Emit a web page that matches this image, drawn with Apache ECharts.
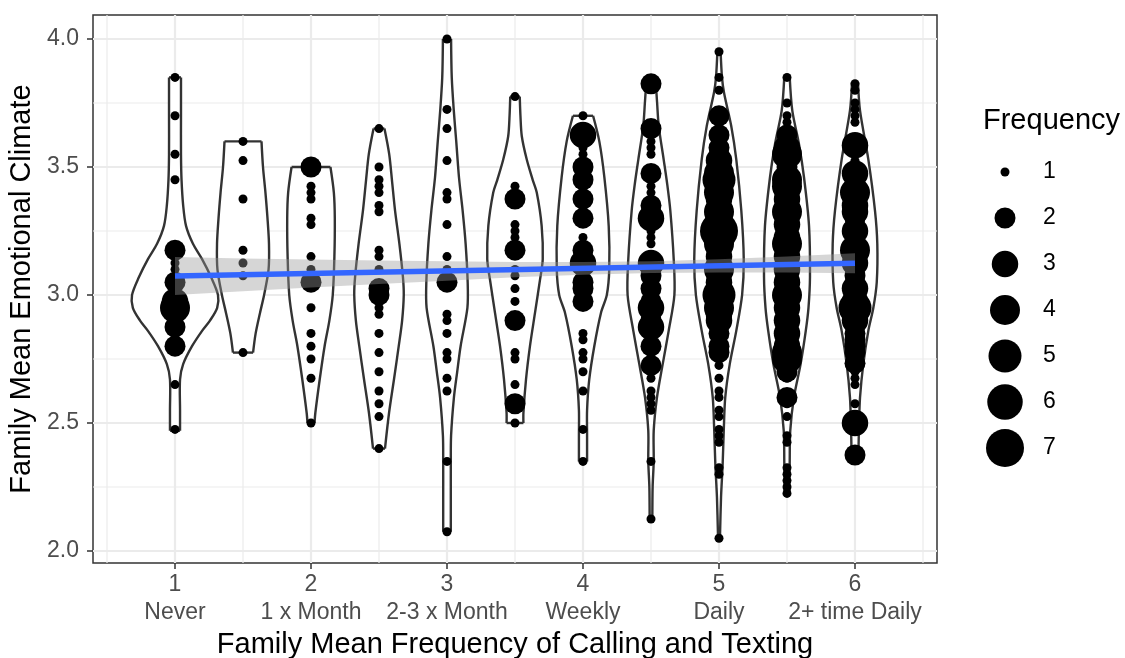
<!DOCTYPE html>
<html>
<head>
<meta charset="utf-8">
<script src="https://cdn.jsdelivr.net/npm/echarts@6/dist/echarts.min.js"></script>
<style>
  body { margin: 0; background: #fff; }
  #chart { width: 1125px; height: 658px; }
</style>
</head>
<body>
<div id="chart"></div>
<script>
// x positions of the groups (family mean frequency)
const groupX = [1, 1.5, 2, 2.5, 3, 3.5, 4, 4.5, 5, 5.5, 6];

// tick labels
const xTickValues = [1, 2, 3, 4, 5, 6];
const xTickNames = ['Never', '1 x Month', '2-3 x Month', 'Weekly', 'Daily', '2+ time Daily'];
const yTickValues = [2.0, 2.5, 3.0, 3.5, 4.0];
const xMinorValues = [0.5, 1.5, 2.5, 3.5, 4.5, 5.5, 6.5];
const yMinorValues = [2.25, 2.75, 3.25, 3.75];

// points per group: [emotional climate, frequency]
const pts1 = [[3.85, 1], [3.70, 1], [3.55, 1], [3.45, 1], [3.175, 2], [3.125, 1], [3.10, 1], [3.05, 2], [2.975, 3], [2.95, 4], [2.875, 2], [2.80, 2], [2.65, 1], [2.475, 1]];
const pts1_5 = [[3.60, 1], [3.525, 1], [3.375, 1], [3.175, 1], [3.125, 1], [3.075, 1], [2.775, 1]];
const pts2 = [[3.50, 2], [3.425, 1], [3.40, 1], [3.375, 1], [3.30, 1], [3.275, 1], [3.15, 1], [3.10, 1], [3.05, 2], [2.95, 1], [2.85, 1], [2.80, 1], [2.75, 1], [2.675, 1], [2.50, 1]];
const pts2_5 = [[3.65, 1], [3.50, 1], [3.45, 1], [3.425, 1], [3.40, 1], [3.35, 1], [3.325, 1], [3.175, 1], [3.15, 1], [3.10, 1], [3.025, 2], [3.00, 2], [2.95, 1], [2.925, 1], [2.85, 1], [2.775, 1], [2.70, 1], [2.625, 1], [2.575, 1], [2.525, 1], [2.40, 1]];
const pts3 = [[4.00, 1], [3.725, 1], [3.65, 1], [3.525, 1], [3.40, 1], [3.375, 1], [3.275, 1], [3.15, 1], [3.10, 1], [3.05, 2], [2.925, 1], [2.90, 1], [2.85, 1], [2.775, 1], [2.75, 1], [2.675, 1], [2.625, 1], [2.35, 1], [2.075, 1]];
const pts3_5 = [[3.775, 1], [3.425, 1], [3.375, 2], [3.275, 1], [3.25, 1], [3.225, 1], [3.175, 2], [3.10, 1], [3.075, 1], [3.025, 1], [2.975, 1], [2.90, 2], [2.775, 1], [2.75, 1], [2.65, 1], [2.575, 2], [2.50, 1]];
const pts4 = [[3.70, 1], [3.625, 3], [3.575, 1], [3.55, 1], [3.50, 2], [3.45, 2], [3.425, 1], [3.375, 2], [3.35, 1], [3.30, 2], [3.225, 1], [3.175, 2], [3.125, 3], [3.05, 2], [3.025, 2], [2.975, 2], [2.85, 1], [2.825, 1], [2.775, 1], [2.75, 1], [2.70, 1], [2.625, 1], [2.475, 1], [2.35, 1]];
const pts4_5 = [[3.825, 2], [3.65, 2], [3.60, 1], [3.575, 1], [3.55, 1], [3.475, 2], [3.425, 1], [3.40, 1], [3.35, 2], [3.30, 3], [3.25, 1], [3.225, 1], [3.20, 1], [3.125, 3], [3.10, 2], [3.075, 2], [3.025, 2], [2.975, 2], [2.95, 3], [2.90, 2], [2.875, 3], [2.80, 2], [2.775, 1], [2.725, 2], [2.70, 1], [2.675, 1], [2.625, 1], [2.60, 1], [2.575, 1], [2.55, 1], [2.35, 1], [2.125, 1]];
const pts5 = [[3.95, 1], [3.85, 1], [3.80, 1], [3.70, 2], [3.65, 1], [3.625, 2], [3.575, 2], [3.525, 3], [3.475, 4], [3.45, 5], [3.40, 4], [3.375, 3], [3.325, 4], [3.30, 3], [3.25, 7], [3.20, 4], [3.15, 3], [3.10, 4], [3.05, 3], [3.00, 5], [2.95, 4], [2.925, 3], [2.90, 3], [2.85, 2], [2.80, 2], [2.775, 2], [2.75, 1], [2.725, 1], [2.675, 1], [2.625, 1], [2.60, 1], [2.55, 1], [2.525, 1], [2.475, 1], [2.45, 1], [2.425, 1], [2.325, 1], [2.30, 1], [2.05, 1]];
const pts5_5 = [[3.85, 1], [3.75, 1], [3.70, 1], [3.675, 1], [3.625, 2], [3.575, 3], [3.55, 4], [3.50, 2], [3.45, 4], [3.425, 4], [3.375, 3], [3.325, 4], [3.275, 3], [3.225, 3], [3.20, 4], [3.15, 3], [3.10, 3], [3.05, 3], [3.00, 4], [2.95, 3], [2.90, 3], [2.85, 3], [2.80, 3], [2.775, 4], [2.75, 4], [2.70, 2], [2.675, 1], [2.60, 2], [2.575, 1], [2.525, 1], [2.45, 1], [2.425, 1], [2.325, 1], [2.30, 1], [2.275, 1], [2.25, 1], [2.225, 1]];
const pts6 = [[3.825, 1], [3.80, 1], [3.75, 1], [3.725, 1], [3.70, 1], [3.675, 1], [3.585, 3], [3.525, 1], [3.475, 3], [3.40, 4], [3.35, 3], [3.325, 3], [3.30, 2], [3.25, 3], [3.20, 2], [3.175, 4], [3.125, 3], [3.075, 2], [3.025, 3], [2.975, 3], [2.95, 5], [2.90, 3], [2.85, 2], [2.825, 2], [2.80, 2], [2.775, 2], [2.733, 2], [2.70, 1], [2.675, 1], [2.65, 1], [2.575, 1], [2.50, 3], [2.375, 2]];
const groupPoints = [pts1, pts1_5, pts2, pts2_5, pts3, pts3_5, pts4, pts4_5, pts5, pts5_5, pts6];

// violin outlines: [emotional climate, half width in x units], top to bottom
const vio1 = [[3.85, 0.044], [3.70, 0.044], [3.55, 0.044], [3.45, 0.048], [3.35, 0.06], [3.27, 0.081], [3.20, 0.132], [3.14, 0.199], [3.07, 0.265], [3.00, 0.316], [2.95, 0.31], [2.90, 0.257], [2.86, 0.199], [2.80, 0.125], [2.73, 0.06], [2.67, 0.037], [2.55, 0.037], [2.47, 0.037]];
const vio1_5 = [[3.60, 0.136], [3.50, 0.147], [3.40, 0.165], [3.30, 0.18], [3.20, 0.191], [3.10, 0.188], [3.00, 0.155], [2.93, 0.125], [2.85, 0.093], [2.775, 0.074]];
const vio2 = [[3.50, 0.143], [3.40, 0.168], [3.30, 0.175], [3.15, 0.172], [3.00, 0.16], [2.90, 0.135], [2.80, 0.10], [2.67, 0.064], [2.54, 0.032], [2.50, 0.026]];
const vio2_5 = [[3.65, 0.04], [3.55, 0.075], [3.45, 0.095], [3.33, 0.118], [3.20, 0.15], [3.07, 0.176], [3.00, 0.182], [2.90, 0.17], [2.80, 0.145], [2.67, 0.11], [2.54, 0.074], [2.40, 0.044]];
const vio3 = [[4.00, 0.03], [3.85, 0.035], [3.72, 0.05], [3.60, 0.068], [3.46, 0.088], [3.33, 0.115], [3.20, 0.137], [3.05, 0.152], [2.95, 0.15], [2.80, 0.10], [2.70, 0.075], [2.60, 0.051], [2.45, 0.03], [2.35, 0.028], [2.20, 0.028], [2.075, 0.028]];
const vio3_5 = [[3.775, 0.035], [3.70, 0.04], [3.62, 0.05], [3.53, 0.086], [3.45, 0.13], [3.40, 0.16], [3.27, 0.196], [3.14, 0.204], [3.06, 0.184], [2.93, 0.147], [2.80, 0.11], [2.67, 0.081], [2.54, 0.062], [2.50, 0.062]];
const vio4 = [[3.70, 0.074], [3.60, 0.12], [3.46, 0.157], [3.27, 0.189], [3.10, 0.193], [3.00, 0.175], [2.93, 0.132], [2.80, 0.083], [2.67, 0.046], [2.55, 0.03], [2.45, 0.03], [2.35, 0.03]];
const vio4_5 = [[3.83, 0.035], [3.75, 0.045], [3.66, 0.057], [3.53, 0.093], [3.43, 0.12], [3.33, 0.142], [3.14, 0.167], [3.00, 0.172], [2.86, 0.13], [2.73, 0.086], [2.60, 0.044], [2.47, 0.02], [2.35, 0.02], [2.25, 0.012], [2.13, 0.01]];
const vio5 = [[3.95, 0.012], [3.85, 0.022], [3.79, 0.037], [3.66, 0.09], [3.53, 0.127], [3.33, 0.164], [3.14, 0.182], [3.00, 0.17], [2.86, 0.127], [2.73, 0.079], [2.60, 0.046], [2.47, 0.035], [2.34, 0.027], [2.21, 0.015], [2.05, 0.007]];
const vio5_5 = [[3.85, 0.02], [3.72, 0.039], [3.59, 0.088], [3.46, 0.125], [3.27, 0.162], [3.07, 0.169], [2.95, 0.158], [2.86, 0.138], [2.73, 0.10], [2.60, 0.051], [2.47, 0.024], [2.35, 0.02], [2.225, 0.018]];
const vio6 = [[3.83, 0.022], [3.72, 0.037], [3.53, 0.098], [3.33, 0.147], [3.20, 0.164], [3.05, 0.16], [2.95, 0.135], [2.86, 0.098], [2.73, 0.061], [2.60, 0.037], [2.50, 0.03], [2.375, 0.025]];
const groupViolins = [vio1, vio1_5, vio2, vio2_5, vio3, vio3_5, vio4, vio4_5, vio5, vio5_5, vio6];

// linear fit and its confidence band
const fitX = [1, 6];
const fitY = [3.074, 3.124];
const bandX = [1, 1.5, 2, 2.5, 3, 3.5, 4, 4.5, 5, 5.5, 6];
const bandLow = [3.000, 3.015, 3.029, 3.043, 3.056, 3.069, 3.079, 3.086, 3.088, 3.088, 3.085];
const bandHigh = [3.148, 3.143, 3.139, 3.135, 3.132, 3.129, 3.129, 3.132, 3.140, 3.150, 3.163];

// size legend
const legendCounts = [1, 2, 3, 4, 5, 6, 7];

const FONT = 'Liberation Sans, Arial, sans-serif';
const X_MIN = 0.397;
const X_MAX = 6.603;
const Y_MIN = 1.95312;
const Y_MAX = 4.09375;
// diameter of a point for each frequency (1..7)
const sizeByCount = [9, 21, 26.5, 30, 33, 35.5, 38];
const pointSize = (val) => sizeByCount[val[2] - 1];

const chart = echarts.init(document.getElementById('chart'), null, { renderer: 'canvas' });

// panel grid lines, drawn under everything else
const gridSeries = (values, vertical, width) => ({
  type: 'custom',
  z: 0,
  silent: true,
  renderItem: (params, api) => {
    const v = api.value(0);
    const a = vertical ? api.coord([v, Y_MIN]) : api.coord([X_MIN, v]);
    const b = vertical ? api.coord([v, Y_MAX]) : api.coord([X_MAX, v]);
    return {
      type: 'line',
      shape: { x1: a[0], y1: a[1], x2: b[0], y2: b[1] },
      style: { stroke: '#ebebeb', lineWidth: width }
    };
  },
  data: values.map((v) => [v])
});

// one smooth edge per side, straight caps, white fill
const renderViolin = (params, api) => {
  const x = api.value(0);
  const prof = groupViolins[params.dataIndex];
  const right = prof.map((p) => api.coord([x + p[1], p[0]]));
  const left = prof.map((p) => api.coord([x - p[1], p[0]]));
  const edge = { fill: null, stroke: '#333333', lineWidth: 2.4 };
  const n = prof.length - 1;
  return {
    type: 'group',
    children: [
      { type: 'polygon', shape: { points: right.concat(left.slice().reverse()) }, style: { fill: '#ffffff' } },
      { type: 'polyline', shape: { points: right, smooth: 0.3 }, style: edge },
      { type: 'polyline', shape: { points: left, smooth: 0.3 }, style: edge },
      { type: 'line', shape: { x1: left[0][0], y1: left[0][1], x2: right[0][0], y2: right[0][1] }, style: edge },
      { type: 'line', shape: { x1: left[n][0], y1: left[n][1], x2: right[n][0], y2: right[n][1] }, style: edge }
    ]
  };
};

const renderBand = (params, api) => {
  const upper = bandX.map((x, i) => api.coord([x, bandHigh[i]]));
  const lower = bandX.map((x, i) => api.coord([x, bandLow[i]])).reverse();
  return {
    type: 'polygon',
    shape: { points: upper.concat(lower) },
    style: { fill: 'rgba(153,153,153,0.4)' }
  };
};

const scatterData = [];
groupX.forEach((x, i) => {
  groupPoints[i].forEach((p) => scatterData.push([x, p[0], p[1]]));
});

const option = {
  animation: false,
  backgroundColor: '#ffffff',
  textStyle: { fontFamily: FONT },
  title: {
    text: 'Frequency',
    left: 983,
    top: 106,
    padding: 0,
    textStyle: { fontFamily: FONT, fontSize: 29, fontWeight: 'normal', color: '#000' }
  },
  grid: [
    {
      left: 93, top: 15, width: 844, height: 548,
      show: true, borderColor: '#333333', borderWidth: 1.5,
      outerBoundsMode: 'none'
    },
    { left: 985, top: 149, width: 40, height: 322, outerBoundsMode: 'none' }
  ],
  xAxis: [
    {
      type: 'value',
      min: X_MIN,
      max: X_MAX,
      name: 'Family Mean Frequency of Calling and Texting',
      nameLocation: 'middle',
      nameGap: 65,
      nameTextStyle: { fontFamily: FONT, fontSize: 29, color: '#000' },
      axisLine: { show: false },
      axisTick: { show: true, customValues: xTickValues, length: 6, lineStyle: { color: '#333333', width: 1.5 } },
      axisLabel: {
        customValues: xTickValues,
        margin: 8,
        fontFamily: FONT,
        fontSize: 23,
        lineHeight: 27.5,
        color: '#4d4d4d',
        formatter: (v) => v + '\n' + xTickNames[xTickValues.indexOf(v)]
      },
      splitLine: { show: false }
    },
    { type: 'value', gridIndex: 1, min: -1, max: 1, show: false }
  ],
  yAxis: [
    {
      type: 'value',
      min: Y_MIN,
      max: Y_MAX,
      name: 'Family Mean Emotional Climate',
      nameLocation: 'middle',
      nameGap: 50,
      nameTextStyle: { fontFamily: FONT, fontSize: 29, color: '#000' },
      axisLine: { show: false },
      axisTick: { show: true, customValues: yTickValues, length: 6, lineStyle: { color: '#333333', width: 1.5 } },
      axisLabel: {
        customValues: yTickValues,
        margin: 14,
        fontFamily: FONT,
        fontSize: 23,
        color: '#4d4d4d',
        formatter: (v) => v.toFixed(1)
      },
      splitLine: { show: false }
    },
    {
      type: 'category',
      gridIndex: 1,
      inverse: true,
      position: 'right',
      data: legendCounts.map(String),
      axisLine: { show: false },
      axisTick: { show: false },
      splitLine: { show: false },
      axisLabel: { margin: 18, fontFamily: FONT, fontSize: 23, color: '#000' }
    }
  ],
  series: [
    gridSeries(xMinorValues, true, 1.2),
    gridSeries(yMinorValues, false, 1.2),
    gridSeries(xTickValues, true, 2.2),
    gridSeries(yTickValues, false, 2.2),
    {
      name: 'violin',
      type: 'custom',
      z: 2,
      silent: true,
      renderItem: renderViolin,
      data: groupX.map((x, i) => [x, groupViolins[i][0][0]])
    },
    {
      name: 'Frequency',
      type: 'scatter',
      z: 3,
      symbol: 'circle',
      symbolSize: pointSize,
      itemStyle: { color: '#000000', opacity: 1 },
      data: scatterData
    },
    {
      name: 'band',
      type: 'custom',
      z: 4,
      silent: true,
      renderItem: renderBand,
      data: [[1, 3.1]]
    },
    {
      name: 'fit',
      type: 'line',
      z: 5,
      showSymbol: false,
      lineStyle: { color: '#3366FF', width: 5.5 },
      data: fitX.map((x, i) => [x, fitY[i]])
    },
    {
      name: 'legend',
      type: 'scatter',
      xAxisIndex: 1,
      yAxisIndex: 1,
      symbol: 'circle',
      symbolSize: pointSize,
      itemStyle: { color: '#000000', opacity: 1 },
      data: legendCounts.map((n, i) => [0, i, n])
    }
  ]
};

chart.setOption(option);
</script>
</body>
</html>
